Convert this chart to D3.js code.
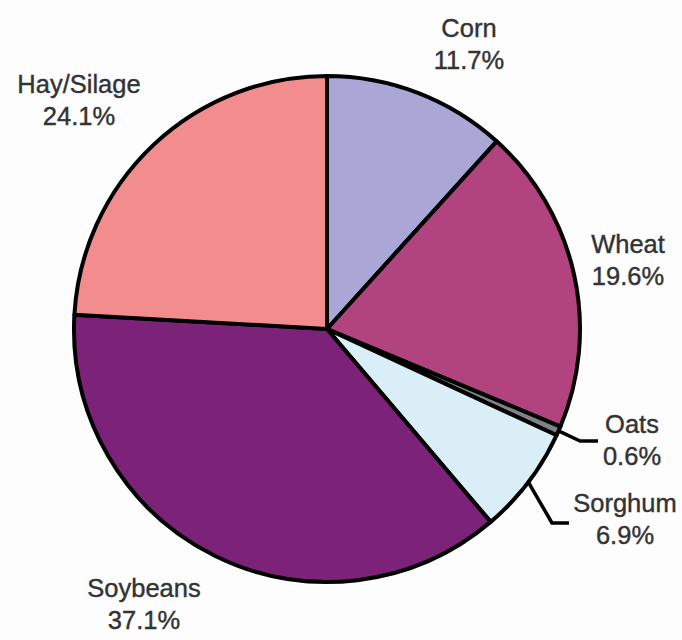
<!DOCTYPE html>
<html>
<head>
<meta charset="utf-8">
<script src="https://cdn.jsdelivr.net/npm/d3@7/dist/d3.min.js"></script>
<style>
  html, body { margin: 0; padding: 0; background: #fdfdfd; }
  svg { display: block; }
</style>
</head>
<body>
<svg id="chart" width="682" height="640"></svg>
<script>
// Crop shares (percent), clockwise from 12 o'clock
const crops   = ["Corn", "Wheat", "Oats", "Sorghum", "Soybeans", "Hay/Silage"];
const shares  = [11.7, 19.6, 0.6, 6.9, 37.1, 24.1];
const colours = ["#aaa6d6", "#b1437f", "#7f828c", "#d9eef6", "#7c2278", "#f28c8d"];

const W = 682, H = 640;
const cx = 327, cy = 329, R = 253;

// Label anchors (centre x, first baseline y) and optional leader elbows
const labelLayout = {
  "Corn":       { x: 469, y: 37 },
  "Wheat":      { x: 628, y: 253 },
  "Oats":       { x: 632, y: 433, elbow: [580, 441], end: [598, 441] },
  "Sorghum":    { x: 625, y: 512, elbow: [552, 523], end: [569, 523] },
  "Soybeans":   { x: 144, y: 597 },
  "Hay/Silage": { x: 79,  y: 93 }
};

const data = crops.map((c, i) => ({ name: c, value: shares[i], colour: colours[i] }));

const svg = d3.select("#chart");
const g = svg.append("g").attr("transform", `translate(${cx},${cy})`);

const pie = d3.pie().sort(null).value(d => d.value).startAngle(0).endAngle(2 * Math.PI);
const arcs = pie(data);

const arc = d3.arc().innerRadius(0).outerRadius(R);
const rim = d3.arc().innerRadius(R).outerRadius(R);

g.selectAll("path.slice")
  .data(arcs)
  .join("path")
  .attr("class", "slice")
  .attr("d", arc)
  .attr("fill", d => d.data.colour)
  .attr("stroke", "#000")
  .attr("stroke-width", 4)
  .attr("stroke-linejoin", "round");

// Leader lines for the thin slices
arcs.forEach(d => {
  const L = labelLayout[d.data.name];
  if (!L.elbow) return;
  const [px, py] = rim.centroid(d);
  svg.append("polyline")
    .attr("points", [[px + cx, py + cy], L.elbow, L.end].map(p => p.join(",")).join(" "))
    .attr("fill", "none")
    .attr("stroke", "#000")
    .attr("stroke-width", 3.5)
    .attr("stroke-linejoin", "round");
});

// Two-line labels: name and percentage
const fmt = d3.format(".1f");
const labels = svg.selectAll("text.lbl")
  .data(arcs)
  .join("text")
  .attr("class", "lbl")
  .attr("text-anchor", "middle")
  .attr("font-family", "'Liberation Sans', Arial, sans-serif")
  .attr("font-size", 25.5)
  .attr("fill", "#333")
  .attr("stroke", "#333")
  .attr("stroke-width", 0.4);

labels.append("tspan")
  .attr("x", d => labelLayout[d.data.name].x)
  .attr("y", d => labelLayout[d.data.name].y)
  .text(d => d.data.name);

labels.append("tspan")
  .attr("x", d => labelLayout[d.data.name].x)
  .attr("y", d => labelLayout[d.data.name].y + 32)
  .text(d => fmt(d.data.value) + "%");
</script>
</body>
</html>
